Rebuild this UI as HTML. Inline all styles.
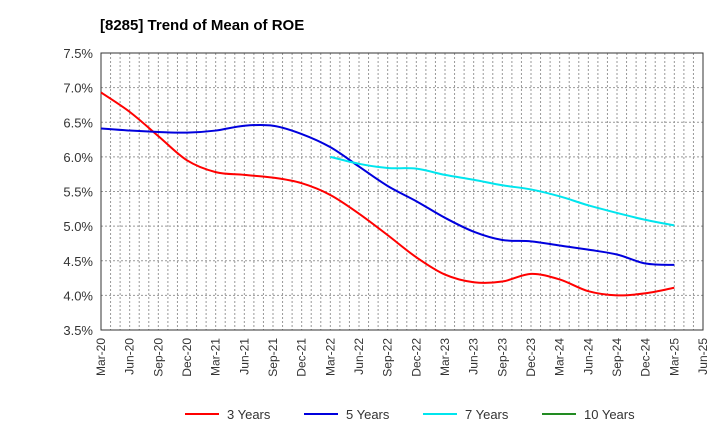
<!DOCTYPE html>
<html><head><meta charset="utf-8"><style>
body{margin:0;background:#fff;font-family:"Liberation Sans",sans-serif}
svg text{font-family:"Liberation Sans",sans-serif}
</style></head><body>
<svg id="c" width="720" height="440" viewBox="0 0 720 440">
<text x="100" y="30" font-size="15" font-weight="bold" fill="#000">[8285]  Trend of Mean of ROE</text>
<g id="grid"></g><g id="axes"></g><g id="series"></g><g id="legend"></g>
</svg>
<script>
const xLabels=["Mar-20","Jun-20","Sep-20","Dec-20","Mar-21","Jun-21","Sep-21","Dec-21","Mar-22","Jun-22","Sep-22","Dec-22","Mar-23","Jun-23","Sep-23","Dec-23","Mar-24","Jun-24","Sep-24","Dec-24","Mar-25","Jun-25"];
const yTicks=[3.5,4.0,4.5,5.0,5.5,6.0,6.5,7.0,7.5];
const s3=[6.93,6.65,6.30,5.95,5.78,5.74,5.70,5.62,5.45,5.18,4.87,4.55,4.30,4.19,4.20,4.31,4.23,4.06,4.00,4.03,4.11];
const s5=[6.41,6.38,6.36,6.35,6.38,6.45,6.45,6.33,6.14,5.86,5.58,5.36,5.12,4.92,4.80,4.78,4.72,4.66,4.59,4.46,4.44];
const s7=[6.00,5.90,5.84,5.83,5.74,5.67,5.59,5.53,5.43,5.30,5.19,5.09,5.01];
const s7start=8;
const s10=[];
const L=101,R=703,T=53,B=330,NS="http://www.w3.org/2000/svg";
const xq=i=>L+(R-L)*i/21;
const yv=v=>B-(v-3.5)/4*(B-T);
function mk(p,tag,a){const e=document.createElementNS(NS,tag);for(const k in a)e.setAttribute(k,a[k]);p.appendChild(e);return e;}
const g=document.getElementById('grid'),ax=document.getElementById('axes'),se=document.getElementById('series'),lg=document.getElementById('legend');
for(let m=1;m<63;m++){const x=L+(R-L)*m/63;const l=mk(g,'line',{x1:x,x2:x,y1:T,y2:B,stroke:'#999','stroke-dasharray':'2,2','stroke-width':1});

}
yTicks.forEach(v=>{const y=yv(v);const l=mk(g,'line',{x1:L,x2:R,y1:y,y2:y,stroke:'#999','stroke-dasharray':'2,2','stroke-width':1});


const t=mk(ax,'text',{x:L-8,y:y+5,'text-anchor':'end','font-size':13,fill:'#333'});t.textContent=v.toFixed(1)+'%';

});
xLabels.forEach((s,i)=>{const x=xq(i);const t=mk(ax,'text',{x:x+4,y:B+8,'text-anchor':'end','font-size':12,fill:'#333',transform:`rotate(-90 ${x+4} ${B+8})`});t.textContent=s;

});
const fr=mk(ax,'rect',{x:L,y:T,width:R-L,height:B-T,fill:'none',stroke:'#333','stroke-width':1});


function path(vals,start){const p=vals.map((v,i)=>[xq(i+start),yv(v)]);if(p.length<2)return '';let d=`M${p[0][0]},${p[0][1]}`;
for(let i=0;i<p.length-1;i++){const p0=p[i-1]||p[i],p1=p[i],p2=p[i+1],p3=p[i+2]||p2;
d+=` C${p1[0]+(p2[0]-p0[0])/6},${p1[1]+(p2[1]-p0[1])/6} ${p2[0]-(p3[0]-p1[0])/6},${p2[1]-(p3[1]-p1[1])/6} ${p2[0]},${p2[1]}`;}return d;}
[[s3,0,'#ff0000','line-3-years'],[s5,0,'#0000dd','line-5-years'],[s7,s7start,'#00e5ee','line-7-years'],[s10,0,'#228b22','line-10-years']].forEach(([v,st,c,n])=>{if(!v.length)return;
const e=mk(se,'path',{d:path(v,st),fill:'none',stroke:c,'stroke-width':2});

});
[['3 Years','#ff0000',185],['5 Years','#0000dd',304],['7 Years','#00e5ee',423],['10 Years','#228b22',542]].forEach(([s,c,x])=>{
const l=mk(lg,'line',{x1:x,x2:x+34,y1:414,y2:414,stroke:c,'stroke-width':2});


const t=mk(lg,'text',{x:x+42,y:419,'font-size':13,fill:'#333'});t.textContent=s;

});
</script>
</body></html>
